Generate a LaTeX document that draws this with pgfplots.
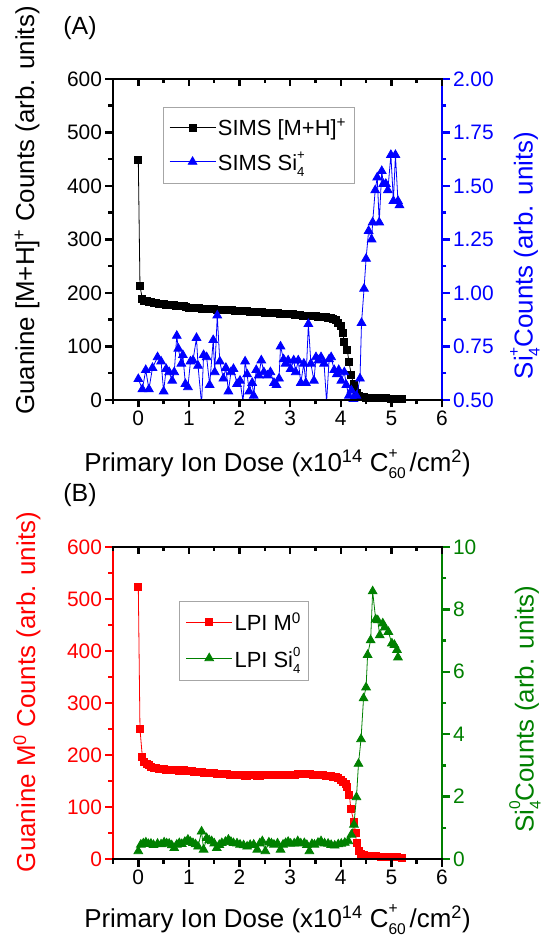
\documentclass[border=0pt]{standalone}
\usepackage{pgfplots}
\pgfplotsset{compat=1.18}
\usepackage{fontspec}
\setmainfont{Liberation Sans}
\definecolor{sblue}{RGB}{0,0,255}
\definecolor{sgreen}{RGB}{0,128,0}
\definecolor{sred}{RGB}{255,0,0}
\newcommand\supsub[2]{\rlap{\raisebox{0.52em}{\scalebox{0.6}{#1}}}\raisebox{-0.27em}{\scalebox{0.6}{#2}}}
\pgfplotsset{
  base/.style={
    scale only axis, width=329bp, anchor=south west,
    xmin=-0.5, xmax=6,
    axis line style={line width=2.8bp, line cap=rect},
    tick style={line width=2.5bp},
    major tick length=7.5bp, minor tick length=4.5bp,
    tick align=outside,
    xtick={0,...,6}, minor xtick={-0.5,0.5,...,5.5},
    /pgf/number format/assume math mode=true,
    tick label style={font=\fontsize{21}{24}\selectfont},
    label style={font=\fontsize{26}{30}\selectfont},
    legend image code/.code={\draw[mark repeat=2,mark phase=2,#1] plot coordinates {(0bp,0bp) (23bp,0bp) (46bp,0bp)};},
  },
  leg/.style={legend style={draw=gray!70, line width=1bp, fill=white,
    font=\fontsize{22}{25}\selectfont, inner xsep=6bp, inner ysep=9bp,
    row sep=11bp, cells={anchor=west}}},
}
\begin{document}
\begin{tikzpicture}
\useasboundingbox (0,0) rectangle (547bp,938bp);
% ================= PANEL A =================
\begin{axis}[base, at={(113bp,538bp)}, height=321bp,
  ymin=0, ymax=600, ytick={0,100,...,600}, minor ytick={50,150,...,550},
  axis x line=none, axis y line*=left,
  axis line style={black}, tick style={black},
  ylabel={Guanine [M+H]\textsuperscript{+} Counts (arb. units)},
  ylabel style={at={(axis description cs:-0.2614,0.59)}, anchor=center}]
\addplot[black, line width=0.8bp, mark=square*, mark size=3.5bp, mark options={solid}] coordinates {
(0,448) (0.033,213) (0.08,189) (0.12,186) (0.16,185) (0.2,184) (0.25,183) (0.3,182) (0.35,181) (0.4,180)
(0.45,180) (0.5,179) (0.55,178) (0.6,178) (0.65,177) (0.7,177) (0.75,176) (0.8,176) (0.85,175) (0.9,175)
(0.95,174) (1.0,173) (1.05,173) (1.1,172) (1.15,172) (1.2,172) (1.25,171) (1.3,171) (1.35,171) (1.4,170)
(1.45,170) (1.5,170) (1.55,169) (1.6,169) (1.65,169) (1.7,168) (1.75,168) (1.8,168) (1.85,168) (1.9,167)
(1.95,167) (2.0,167) (2.05,166) (2.1,166) (2.15,166) (2.2,165) (2.25,165) (2.3,165) (2.35,164) (2.4,164)
(2.45,164) (2.5,163) (2.55,163) (2.6,163) (2.65,162) (2.7,162) (2.75,162) (2.8,161) (2.85,161) (2.9,161)
(2.95,160) (3.0,160) (3.05,160) (3.1,159) (3.15,159) (3.2,159) (3.25,158) (3.3,158) (3.35,158) (3.4,157)
(3.45,157) (3.5,157) (3.55,156) (3.6,156) (3.65,155) (3.7,155) (3.75,154) (3.8,153) (3.85,152) (3.9,150)
(3.95,145) (4.0,138) (4.04,126) (4.07,108) (4.13,93) (4.16,72) (4.21,46) (4.25,30) (4.28,20) (4.31,13)
(4.35,8) (4.4,6) (4.45,5) (4.5,4.5) (4.6,4) (4.7,3.5) (4.8,3) (4.9,3) (5.0,2.5) (5.1,2) (5.2,2)
};
\end{axis}
\begin{axis}[base, at={(113bp,538bp)}, height=321bp,
  ymin=0.5, ymax=2, ytick={0.5,0.75,...,2}, minor ytick={0.625,0.875,...,1.875},
  /pgf/number format/fixed, /pgf/number format/fixed zerofill, /pgf/number format/precision=2,
  axis x line=none, axis y line*=right,
  axis line style={sblue}, tick style={sblue}, yticklabel style={text=sblue},
  ylabel={Si\supsub{+}{4}Counts (arb. units)},
  ylabel style={text=sblue, at={(axis description cs:1.252,0.45)}, anchor=center},
  leg, legend style={at={(axis description cs:0.151,0.912)}, anchor=north west}]
\addlegendimage{black, line width=0.8bp, mark=square*, mark size=3.5bp, mark options={solid}}
\addlegendentry{SIMS [M+H]\textsuperscript{+}}
\addplot[sblue, line width=0.8bp, mark=triangle*, mark size=5bp, mark options={solid}] coordinates {
(0,0.598) (0.08,0.55) (0.147,0.64) (0.21,0.55) (0.28,0.65) (0.38,0.70) (0.45,0.68) (0.5,0.54) (0.55,0.645)
(0.61,0.63) (0.67,0.59) (0.71,0.63) (0.76,0.80) (0.79,0.74) (0.85,0.67) (0.88,0.71) (0.93,0.575) (0.98,0.56)
(1.03,0.68) (1.08,0.685) (1.15,0.79) (1.18,0.66) (1.25,0.48) (1.29,0.71) (1.35,0.70) (1.41,0.57) (1.48,0.78)
(1.51,0.63) (1.56,0.895) (1.61,0.68) (1.68,0.60) (1.73,0.65) (1.78,0.54) (1.83,0.63) (1.88,0.645) (1.95,0.575)
(2.01,0.59) (2.07,0.49) (2.11,0.68) (2.15,0.62) (2.19,0.54) (2.25,0.58) (2.28,0.52) (2.33,0.64) (2.38,0.615)
(2.43,0.685) (2.48,0.63) (2.55,0.615) (2.61,0.63) (2.68,0.58) (2.73,0.57) (2.78,0.60) (2.81,0.75) (2.87,0.69)
(2.91,0.67) (2.96,0.685) (3.01,0.645) (3.07,0.685) (3.11,0.63) (3.16,0.685) (3.21,0.58) (3.27,0.67) (3.31,0.58)
(3.36,0.855) (3.41,0.67) (3.47,0.59) (3.51,0.70) (3.56,0.685) (3.61,0.70) (3.67,0.67) (3.72,0.49) (3.77,0.69)
(3.81,0.70) (3.87,0.64) (3.92,0.62) (3.96,0.64) (4.01,0.59) (4.07,0.63) (4.11,0.57) (4.16,0.52) (4.21,0.545)
(4.25,0.505) (4.31,0.52) (4.38,0.60) (4.41,0.86) (4.46,1.02) (4.50,1.16) (4.55,1.29) (4.61,1.25) (4.63,1.33)
(4.68,1.48) (4.72,1.54) (4.76,1.33) (4.81,1.57) (4.84,1.51) (4.89,1.51) (4.93,1.48) (4.99,1.645) (5.04,1.43)
(5.08,1.645) (5.13,1.43) (5.16,1.41)
};
\addlegendentry{SIMS Si\supsub{+}{4}}
\end{axis}
\begin{axis}[base, at={(113bp,538bp)}, height=321bp, ymin=0, ymax=1,
  axis y line=none, axis x line*=bottom, axis line style={black}, tick style={black},
  xlabel={Primary Ion Dose (x10\textsuperscript{14} C\supsub{+}{60}\hspace{0.15em}/cm\textsuperscript{2})},
  xlabel style={at={(axis description cs:0.5,-0.224)}, anchor=base}]
\end{axis}
\begin{axis}[base, at={(113bp,538bp)}, height=321bp, ymin=0, ymax=1,
  axis y line=none, axis x line*=top, axis line style={black}, tick style={black},
  tick align=inside, xticklabels={}]
\end{axis}
% ================= PANEL B =================
\begin{axis}[base, at={(113bp,79bp)}, height=312bp,
  ymin=0, ymax=600, ytick={0,100,...,600}, minor ytick={50,150,...,550},
  axis x line=none, axis y line*=left,
  axis line style={sred}, tick style={sred}, yticklabel style={text=sred},
  ylabel={Guanine M\textsuperscript{0} Counts (arb. units)},
  ylabel style={text=sred, at={(axis description cs:-0.2614,0.535)}, anchor=center}]
\addplot[sred, line width=0.8bp, mark=square*, mark size=3.5bp, mark options={solid}] coordinates {
(0,524) (0.033,250) (0.08,196) (0.12,186) (0.16,182) (0.2,180) (0.25,178) (0.3,176) (0.35,175) (0.4,174)
(0.45,173) (0.5,173) (0.55,172) (0.6,172) (0.65,171) (0.7,171) (0.75,171) (0.8,170) (0.85,171) (0.9,171)
(0.95,170) (1.0,170) (1.05,169) (1.1,168) (1.15,168) (1.2,167) (1.25,167) (1.3,166) (1.35,166) (1.4,166)
(1.45,165) (1.5,165) (1.55,164) (1.6,164) (1.65,163) (1.7,163) (1.75,163) (1.8,162) (1.85,162) (1.9,162)
(1.95,161) (2.0,161) (2.05,161) (2.1,160) (2.15,160) (2.2,161) (2.25,161) (2.3,161) (2.35,160) (2.4,160)
(2.45,161) (2.5,161) (2.55,161) (2.6,161) (2.65,162) (2.7,162) (2.75,161) (2.8,161) (2.85,161) (2.9,162)
(2.95,162) (3.0,162) (3.05,162) (3.1,162) (3.15,163) (3.2,163) (3.25,163) (3.3,163) (3.35,163) (3.4,163)
(3.45,162) (3.5,162) (3.55,162) (3.6,161) (3.65,161) (3.7,160) (3.75,160) (3.8,159) (3.85,158) (3.9,157)
(3.95,155) (4.0,153) (4.05,149) (4.1,144) (4.13,139) (4.17,123) (4.2,96) (4.26,72) (4.29,51) (4.31,31)
(4.35,15) (4.4,9) (4.45,7) (4.5,6) (4.6,5.5) (4.7,5) (4.8,4.5) (4.9,4) (5.0,4) (5.1,3.5) (5.2,3)
};
\end{axis}
\begin{axis}[base, at={(113bp,79bp)}, height=312bp,
  ymin=0, ymax=10, ytick={0,2,...,10}, minor ytick={1,3,...,9},
  axis x line=none, axis y line*=right,
  axis line style={sgreen}, tick style={sgreen}, yticklabel style={text=sgreen},
  ylabel={Si\supsub{0}{4}Counts (arb. units)},
  ylabel style={text=sgreen, at={(axis description cs:1.252,0.48)}, anchor=center},
  leg, legend style={at={(axis description cs:0.2016,0.827)}, anchor=north west}]
\addlegendimage{sred, line width=0.8bp, mark=square*, mark size=3.5bp, mark options={solid}}
\addlegendentry{LPI M\textsuperscript{0}}
\addplot[sgreen, line width=0.8bp, mark=triangle*, mark size=5bp, mark options={solid}] coordinates {
(0,0.25) (0.05,0.46) (0.1,0.5) (0.15,0.53) (0.2,0.48) (0.25,0.49) (0.3,0.45) (0.38,0.49) (0.45,0.47)
(0.51,0.53) (0.56,0.5) (0.61,0.49) (0.66,0.44) (0.71,0.35) (0.76,0.46) (0.81,0.51) (0.86,0.48) (0.92,0.55)
(0.98,0.62) (1.03,0.55) (1.08,0.51) (1.13,0.47) (1.18,0.40) (1.25,0.88) (1.29,0.30) (1.35,0.67) (1.4,0.6)
(1.45,0.57) (1.5,0.5) (1.55,0.35) (1.6,0.45) (1.65,0.51) (1.72,0.55) (1.78,0.62) (1.83,0.55) (1.88,0.51)
(1.95,0.5) (2.01,0.46) (2.08,0.44) (2.15,0.40) (2.21,0.45) (2.28,0.46) (2.35,0.30) (2.4,0.5) (2.45,0.57)
(2.51,0.25) (2.58,0.53) (2.63,0.5) (2.68,0.46) (2.75,0.5) (2.81,0.30) (2.86,0.46) (2.91,0.51) (2.96,0.55)
(3.01,0.49) (3.08,0.5) (3.15,0.57) (3.21,0.5) (3.28,0.51) (3.33,0.45) (3.38,0.25) (3.43,0.48) (3.48,0.46)
(3.55,0.52) (3.61,0.57) (3.68,0.5) (3.75,0.49) (3.81,0.45) (3.88,0.43) (3.95,0.47) (4.01,0.49) (4.08,0.52)
(4.15,0.57) (4.21,0.78) (4.26,1.10) (4.31,1.98) (4.35,3.05) (4.4,3.84) (4.45,5.15) (4.5,5.5) (4.53,6.54)
(4.59,7.01) (4.63,8.58) (4.69,7.68) (4.73,7.65) (4.77,7.17) (4.83,7.55) (4.87,7.42) (4.94,7.28) (5.01,6.91)
(5.06,6.86) (5.11,6.70) (5.13,6.46)
};
\addlegendentry{LPI Si\supsub{0}{4}}
\end{axis}
\begin{axis}[base, at={(113bp,79bp)}, height=312bp, ymin=0, ymax=1,
  axis y line=none, axis x line*=bottom, axis line style={black}, tick style={black},
  xlabel={Primary Ion Dose (x10\textsuperscript{14} C\supsub{+}{60}\hspace{0.15em}/cm\textsuperscript{2})},
  xlabel style={at={(axis description cs:0.5,-0.218)}, anchor=base}]
\end{axis}
\begin{axis}[base, at={(113bp,79bp)}, height=312bp, ymin=0, ymax=1,
  axis y line=none, axis x line*=top, axis line style={black}, tick style={black},
  tick align=inside, xticklabels={}]
\end{axis}
\node[font=\fontsize{25}{28}\selectfont] at (80bp,910bp) {(A)};
\node[font=\fontsize{25}{28}\selectfont] at (80bp,443bp) {(B)};
\end{tikzpicture}
\end{document}
